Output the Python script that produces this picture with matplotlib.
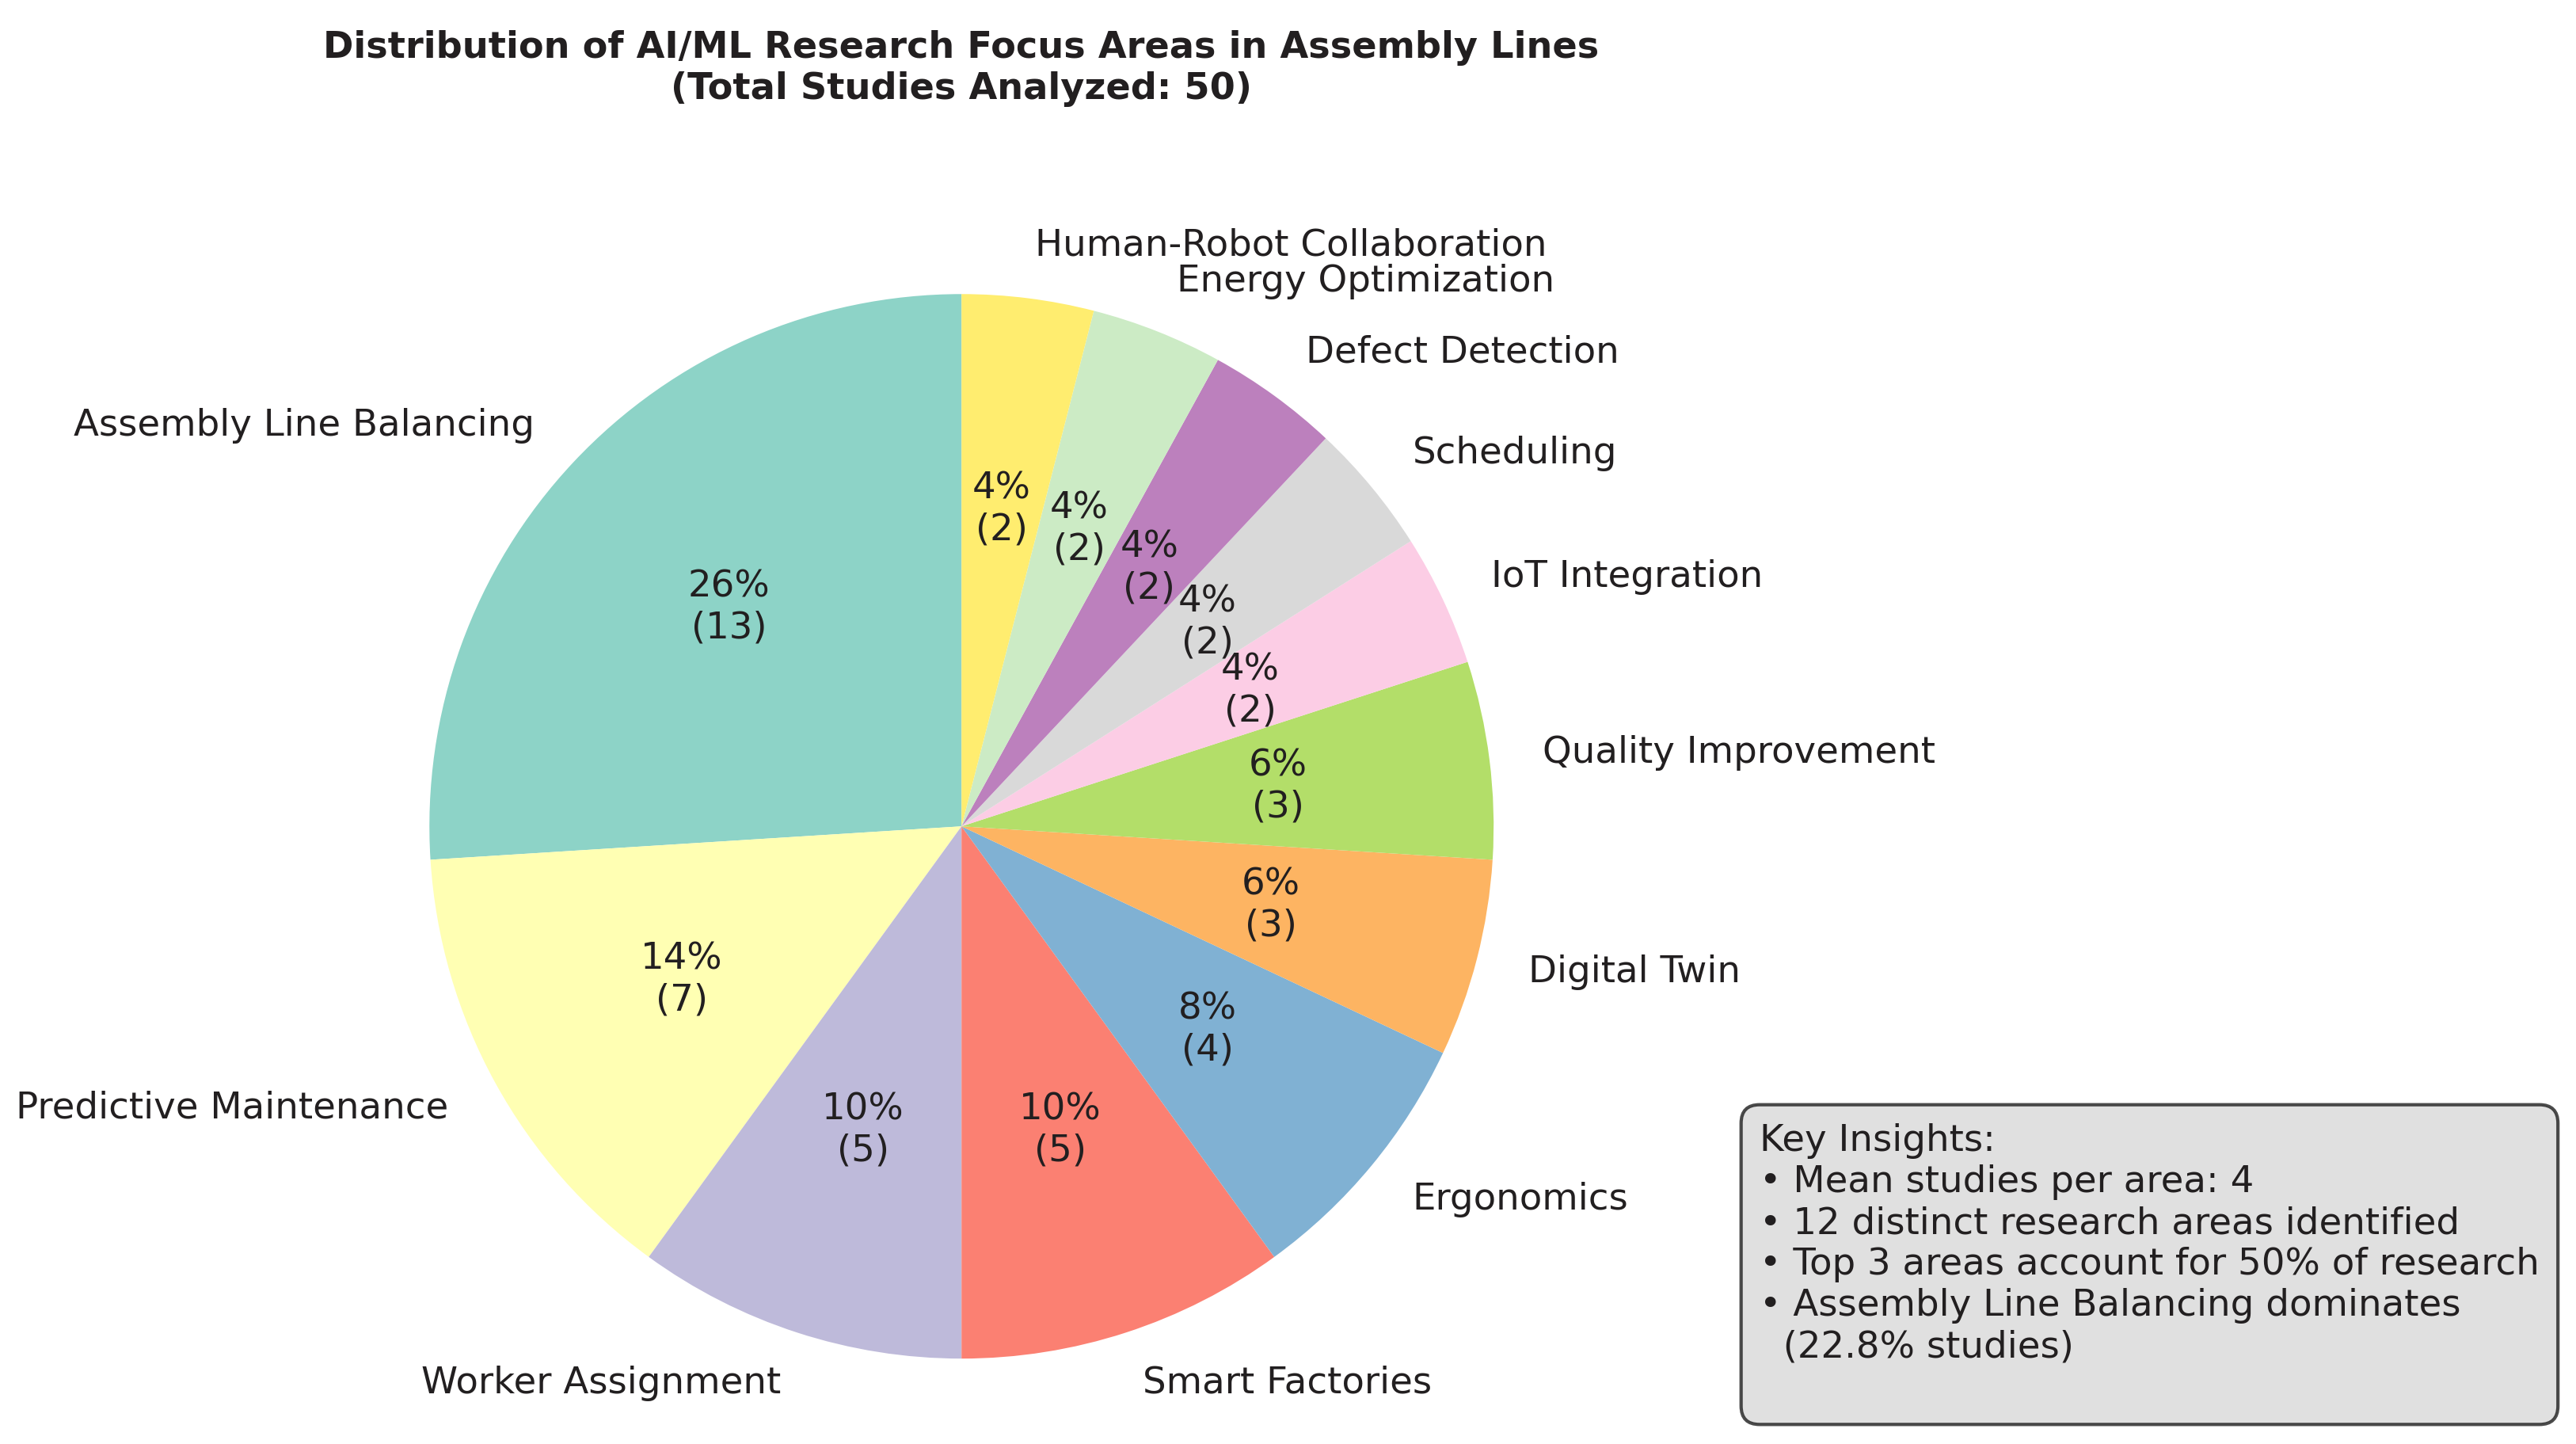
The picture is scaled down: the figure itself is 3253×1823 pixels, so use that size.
import matplotlib
matplotlib.use("Agg")
import matplotlib.pyplot as plt
import numpy as np

# research areas and number of studies
areas = ['Assembly Line Balancing', 'Predictive Maintenance', 'Worker Assignment',
         'Smart Factories', 'Ergonomics', 'Digital Twin', 'Quality Improvement',
         'IoT Integration', 'Scheduling', 'Defect Detection', 'Energy Optimization',
         'Human-Robot Collaboration']
studies = [13, 7, 5, 5, 4, 3, 3, 2, 2, 2, 2, 2]

total = sum(studies)
txt_color = '#221f20'

fig = plt.figure(figsize=(3254 / 300, 1823 / 300), dpi=300)
ax = fig.add_axes([0.115, -0.033, 0.5163, 0.9215])

colors = plt.cm.Set3(np.arange(len(studies)))


def fmt(pct):
    n = int(round(pct * total / 100.0))
    return f'{pct:.0f}%\n({n})'


wedges, texts, autotexts = ax.pie(studies, labels=areas, colors=colors,
                                  autopct=fmt, startangle=90,
                                  textprops={'fontsize': 11.2, 'color': txt_color})
ax.set_aspect('equal')

fig.text(0.373, 1 - 38 / 1823,
         'Distribution of AI/ML Research Focus Areas in Assembly Lines\n(Total Studies Analyzed: 50)',
         ha='center', va='top', fontsize=11.1, fontweight='bold', color=txt_color,
         multialignment='center')

top3 = sum(sorted(studies, reverse=True)[:3]) / total * 100
insights = ("Key Insights:\n"
            f"\u2022 Mean studies per area: {total / len(studies):.0f}\n"
            f"\u2022 {len(areas)} distinct research areas identified\n"
            f"\u2022 Top 3 areas account for {top3:.0f}% of research\n"
            "\u2022 Assembly Line Balancing dominates\n"
            "  (22.8% studies)\n")
fig.text(2222 / 3254, 1 - 1418 / 1823, insights, ha='left', va='top',
         fontsize=11.2, color=txt_color,
         bbox=dict(boxstyle='round,pad=0.5', facecolor='lightgray',
                   edgecolor='black', alpha=0.7))

fig.savefig('out.png', dpi=300)
